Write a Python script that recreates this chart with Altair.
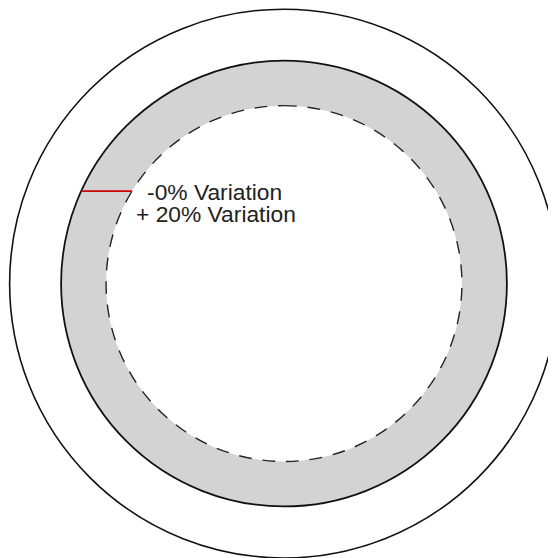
import math
import altair as alt
import pandas as pd

# Circle radii (px units of the final picture, centre at 0,0)
ring_outer = [223]
ring_inner = [178]
circle_names = ["outer", "middle", "inner"]
circle_radii = [274.5, 223, 178]

# Red marker line (horizontal, from middle circle to dashed circle)
line_x1 = [-203]
line_x2 = [-152]
line_y = [92.5]

# Labels
labels = ["-0% Variation", "+ 20% Variation"]
label_x = [-137, -148]
label_y = [84, 62]

# Page is slightly wider than the window; the capture scales it down by 1/S
W, H = 548, 550
S = (W + 16) / 556.0
OFF_Y = (558 - 558 / S) / 2
CX, CY = 284.0, 283.5  # centre in final picture pixels
cx_chart = CX * S - 8
cy_chart = (CY - OFF_Y) * S - 8

xs = alt.Scale(domain=[-cx_chart / S, (W - cx_chart) / S], range=[0, W], nice=False, zero=False)
ys = alt.Scale(domain=[-(H - cy_chart) / S, cy_chart / S], nice=False, zero=False)
rs = alt.Scale(type="linear", domain=[0, 300], range=[0, 300 * S], zero=True)

ring_df = pd.DataFrame({"cx": [0], "cy": [0], "ro": ring_outer, "ri": ring_inner})
circ_df = pd.DataFrame({"cx": [0] * 3, "cy": [0] * 3, "name": circle_names, "r": circle_radii})
line_df = pd.DataFrame({"x1": line_x1, "x2": line_x2, "y": line_y})
text_df = pd.DataFrame({"label": labels, "x": label_x, "y": label_y})

X = lambda f: alt.X(f, type="quantitative", scale=xs, axis=None)
Y = lambda f: alt.Y(f, type="quantitative", scale=ys, axis=None)

ring = alt.Chart(ring_df).mark_arc(theta=0, theta2=2 * math.pi, color="#d3d3d3", strokeWidth=0).encode(
    x=X("cx"), y=Y("cy"),
    radius=alt.Radius("ro:Q", scale=rs, stack=None),
    radius2=alt.Radius2("ri:Q"),
)


def circle(name, **kw):
    return alt.Chart(circ_df).transform_filter(alt.datum.name == name).mark_arc(
        theta=0, theta2=2 * math.pi, fillOpacity=0, **kw
    ).encode(x=X("cx"), y=Y("cy"), radius=alt.Radius("r:Q", scale=rs, stack=None))


outer = circle("outer", stroke="#111111", strokeWidth=1.6)
middle = circle("middle", stroke="#111111", strokeWidth=1.8)
dashed = circle("inner", stroke="#222222", strokeWidth=1.4, strokeDash=[13, 11])

red = alt.Chart(line_df).mark_rule(color="#cc0000", strokeWidth=1.6).encode(
    x=X("x1"), x2="x2", y=Y("y")
)

text = alt.Chart(text_df).mark_text(
    align="left", baseline="alphabetic", font="Liberation Sans", fontSize=22.8 * S, color="#222222"
).encode(x=X("x"), y=Y("y"), text="label:N")

chart = alt.layer(ring, outer, middle, dashed, red, text).properties(
    width=W, height=H, padding=0, autosize=alt.AutoSizeParams(type="none")
).configure_view(stroke=None)

chart.save("out.html", embed_options={"renderer": "svg", "actions": False})
